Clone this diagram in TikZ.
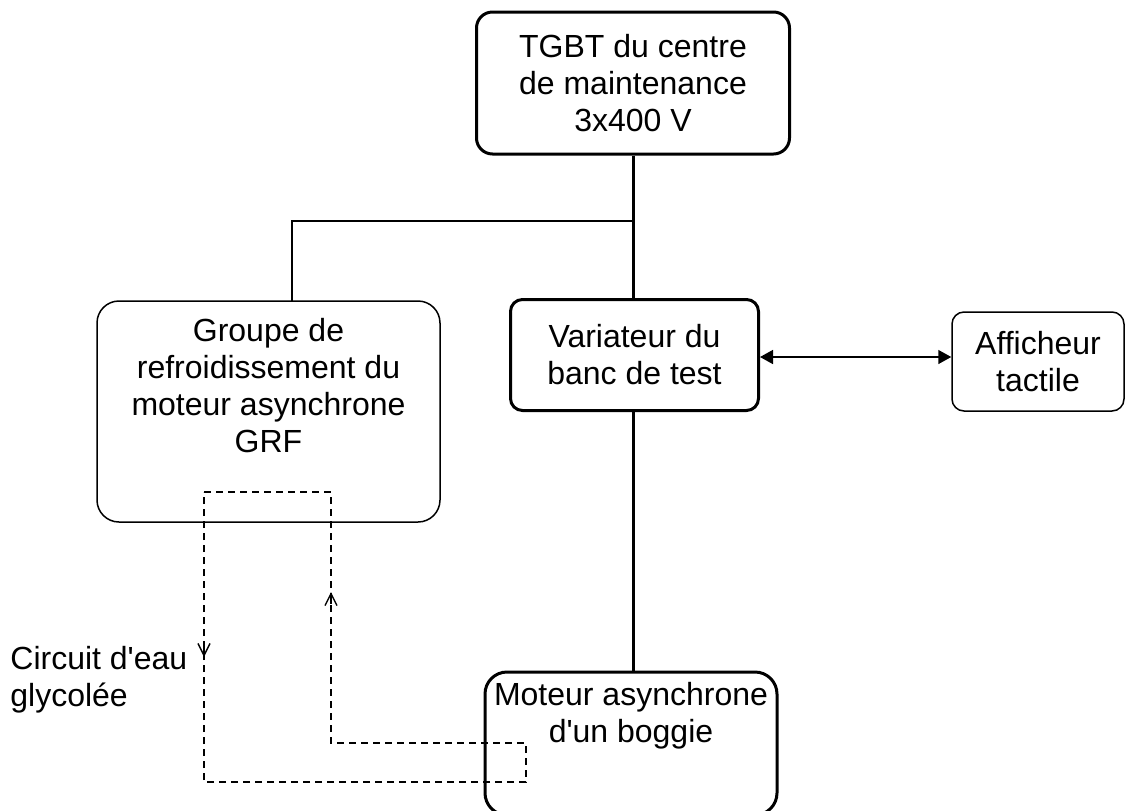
\documentclass[tikz,border=0pt]{standalone}
\usepackage{fontspec}
\setmainfont{Liberation Sans}[Ligatures=TeXOff]
\usetikzlibrary{arrows.meta, calc}

\begin{document}
\begin{tikzpicture}[
    x=0.5pt, y=-0.5pt,
    font=\fontsize{16pt}{18.5pt}\selectfont,
    bloc/.style={rectangle, rounded corners=6pt, draw=black, line width=0.75pt, align=center, inner sep=0pt},
    blocFort/.style={bloc, line width=1.5pt},
    texte/.style={align=center, inner sep=0pt},
    lien/.style={line width=0.75pt},
    lienFort/.style={line width=1.5pt},
    eau/.style={line width=0.6pt, dash pattern=on 3.5pt off 2.5pt},
    fleche/.style={line width=0.7pt, -{Straight Barb[length=6pt, width=6pt]}},
    doubleFleche/.style={line width=0.75pt, {Triangle[length=6.5pt, width=7pt]}-{Triangle[length=6.5pt, width=7pt]}}
]
\useasboundingbox (0,0) rectangle (1125,810);

% Blocs
\node[blocFort, rounded corners=8pt, minimum width=156.5pt, minimum height=71pt] (tgbt) at (633,83) {TGBT du centre\\de maintenance\\3x400 V};
\node[blocFort, minimum width=124pt, minimum height=55.5pt] (var) at (634.5,355) {Variateur du\\banc de test};
\node[bloc, minimum width=86pt, minimum height=49.5pt] (aff) at (1038,361.5) {Afficheur\\tactile};
\node[bloc, rounded corners=11pt, minimum width=171.5pt, minimum height=110.5pt] (grf) at (268.5,411.5) {};
\node[texte] (grfTexte) at (268.5,386) {Groupe de\\refroidissement du\\moteur asynchrone\\GRF};
\node[blocFort, rounded corners=11pt, minimum width=146pt, minimum height=71.5pt] (mot) at (631,743.5) {};
\node[texte] (motTexte) at (631,716) {Moteur asynchrone\\d'un boggie};
\node[texte, align=left, anchor=west] (circuit) at (10,680) {Circuit d'eau\\glycolée};

% Alimentation
\coordinate (branche) at (tgbt.south |- 0,221);
\coordinate (grfHaut) at (292,301);
\draw[lienFort] (tgbt.south) -- (tgbt.south |- var.north);
\draw[lien] (branche) -| (grfHaut);
\draw[lienFort] (var.south -| tgbt.south) -- (tgbt.south |- mot.north);
\draw[doubleFleche] ($(var.east)+(0,2)$) -- ($(var.east -| aff.west)+(0,2)$);

% Circuit d'eau glycolee
\coordinate (eauA) at (204,492);
\coordinate (eauB) at (331,492);
\coordinate (eauC) at (331,743);
\coordinate (eauD) at (526,743);
\coordinate (eauE) at (526,782);
\coordinate (eauF) at (204,782);
\draw[eau] (eauA) -- (eauB) -- (eauC) -- (eauD) -- (eauE) -- (eauF) -- cycle;
\coordinate (descente) at (204,657);
\coordinate (montee) at (331,592);
\draw[fleche] ($(descente)+(0,-12)$) -- (descente);
\draw[fleche] ($(montee)+(0,12)$) -- (montee);

\end{tikzpicture}
\end{document}
